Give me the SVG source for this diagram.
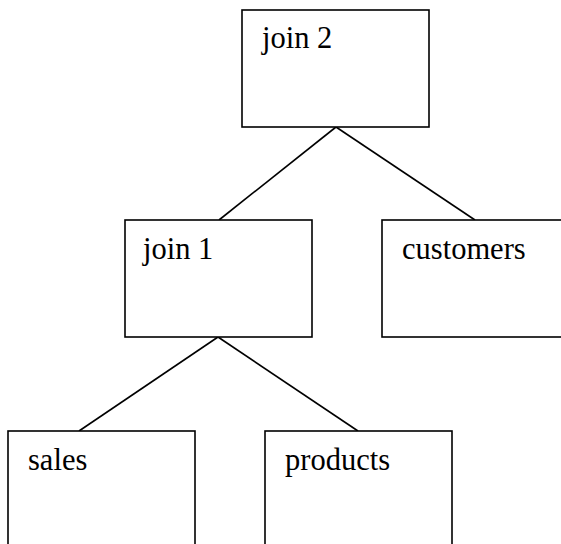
<svg xmlns="http://www.w3.org/2000/svg" width="561" height="544" viewBox="0 0 561 544">
<style>
.box{fill:#fff;stroke:#000;stroke-width:1.6}
.lbl{font-family:"Liberation Serif","Times New Roman",serif;font-size:30.5px;fill:#000}
.edge{stroke:#000;stroke-width:1.6;fill:none}
</style>
<rect width="561" height="544" fill="#fff"/>
<g id="connectors">
<line class="edge" x1="336" y1="127" x2="219" y2="220"/>
<line class="edge" x1="336" y1="127" x2="475" y2="220"/>
<line class="edge" x1="218" y1="337" x2="79" y2="431"/>
<line class="edge" x1="218" y1="337" x2="358" y2="431"/>
</g>
<g id="join2">
<rect class="box" x="242" y="10" width="187" height="117"/>
<text class="lbl" x="262" y="48">join 2</text>
</g>
<g id="join1">
<rect class="box" x="125" y="220" width="187" height="117"/>
<text class="lbl" x="143" y="259">join 1</text>
</g>
<g id="customers">
<rect class="box" x="382" y="220" width="187" height="117"/>
<text class="lbl" x="402" y="259">customers</text>
</g>
<g id="sales">
<rect class="box" x="8" y="431" width="187" height="117"/>
<text class="lbl" x="28" y="470">sales</text>
</g>
<g id="products">
<rect class="box" x="265" y="431" width="187" height="117"/>
<text class="lbl" x="285" y="470">products</text>
</g>
</svg>
